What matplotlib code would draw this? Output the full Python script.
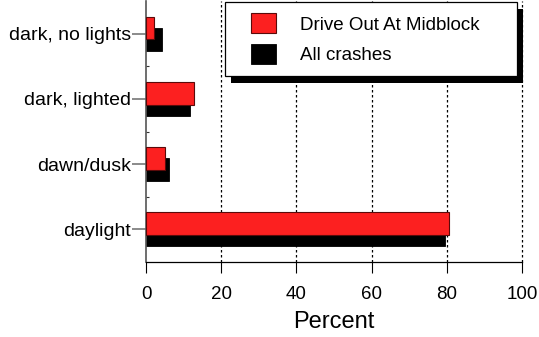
import matplotlib
matplotlib.use("Agg")
import matplotlib.pyplot as plt
from matplotlib.patches import Rectangle
from matplotlib.transforms import IdentityTransform
from matplotlib.legend_handler import HandlerPatch
import numpy as np

# lighting condition categories, bottom to top
categories = ["daylight", "dawn/dusk", "dark, lighted", "dark, no lights"]
midblock = [80.7, 5.1, 12.7, 2.2]   # Drive Out At Midblock
all_crashes = [79.4, 6.1, 11.7, 4.2]
xticks = [0, 20, 40, 60, 80, 100]

plt.rcParams['font.family'] = ['Liberation Sans', 'DejaVu Sans']

fig = plt.figure(figsize=(5.39, 3.37), dpi=100)
ax = fig.add_axes([146/539, 75/337, 376/539, 261/337])

y = np.arange(len(categories))
h = 0.35
off = 0.085
b_all = ax.barh(y - off, all_crashes, height=h, color='black', edgecolor='black',
                linewidth=0.6, zorder=2)
b_mid = ax.barh(y + off, midblock, height=h, color='#fc2020', edgecolor='#5a0a0a',
                linewidth=0.8, zorder=3)

ax.set_xlim(0, 100)
ax.set_ylim(-0.5, len(categories) - 0.5)
ax.set_xticks(xticks)
ax.set_yticks(y)
ax.set_yticklabels(categories, fontsize=14)
ax.set_yticks(np.arange(len(categories) - 1) + 0.5, minor=True)
ax.tick_params(axis='x', labelsize=13.5, length=8, width=0.8, direction='out', pad=9)
ax.tick_params(axis='y', which='major', length=10, width=1.2, color='#777777', pad=1)
ax.tick_params(axis='y', which='minor', length=2.5, width=0.8, direction='in', color='#333333')
ax.set_xlabel('Percent', fontsize=17, labelpad=6)

for xv in xticks[1:]:
    ax.axvline(xv, color='black', linestyle=(0, (2, 2)), linewidth=0.9,
               zorder=1, clip_on=False)

ax.spines['top'].set_visible(False)
ax.spines['right'].set_visible(False)
ax.spines['left'].set_color('#555555')
ax.spines['left'].set_linewidth(1.2)
ax.spines['bottom'].set_linewidth(0.9)

handles = [b_mid.patches[0], b_all.patches[0]]
labels = ['Drive Out At Midblock', 'All crashes']
leg = ax.legend(handles, labels, loc='upper left',
                bbox_to_anchor=(0.21, 0.0, 0.777, 0.996), mode='expand',
                fontsize=13.5, frameon=True, fancybox=False, shadow=False,
                handlelength=2.13, handleheight=1.25, handletextpad=1.28,
                labelspacing=0.57, borderpad=0.6, borderaxespad=0,
                handler_map={h: HandlerPatch(xpad=0.8) for h in handles})
leg.get_frame().set_edgecolor('black')
leg.get_frame().set_linewidth(0.9)
leg.get_frame().set_alpha(1)
leg.set_zorder(6)

# solid black drop shadow behind the legend box
fig.canvas.draw()
bb = leg.get_window_extent()
shadow = Rectangle((bb.x0 + 6, bb.y0 - 7), bb.width, bb.height,
                   transform=IdentityTransform(), facecolor='black',
                   edgecolor='none', zorder=5, clip_on=False)
ax.add_artist(shadow)

fig.savefig('out.png', dpi=100)
